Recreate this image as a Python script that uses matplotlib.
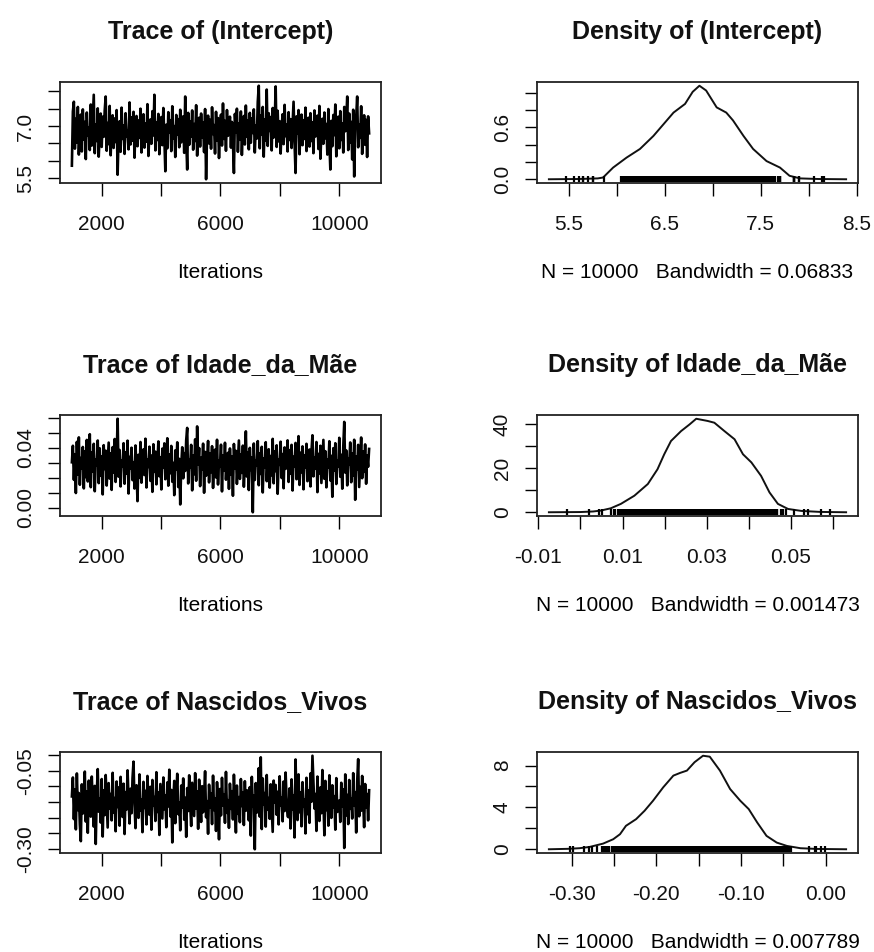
import numpy as np
import matplotlib.pyplot as plt

# --- data (coda trace / density plots) ---
first_iter, last_iter = 1001, 11000
n_draws = 10000

param_names = ["(Intercept)", "Idade_da_Mãe", "Nascidos_Vivos"]
bandwidths = ["0.06833", "0.001473", "0.007789"]

# thinned hand-read traces (every ~33rd draw)
trace_intercept = [
    5.86, 7.42, 7.70, 6.35, 7.21, 6.52, 7.55, 6.18, 6.88, 7.33, 6.27, 7.48, 6.61, 7.12, 6.05, 7.39, 6.74, 6.96, 6.31, 7.62,
    6.44, 7.18, 7.90, 6.22, 7.05, 6.57, 7.51, 6.12, 6.83, 7.36, 6.40, 7.27, 6.69, 7.44, 7.85, 6.29, 7.09, 6.48, 7.58, 6.16,
    6.92, 7.31, 6.37, 7.22, 6.54, 7.46, 5.60, 6.79, 7.14, 6.26, 7.53, 6.63, 7.02, 6.20, 7.37, 6.71, 6.87, 6.33, 7.68, 6.47,
    7.25, 6.58, 7.41, 6.09, 6.98, 7.29, 6.42, 7.16, 6.66, 7.50, 6.24, 6.91, 7.34, 6.38, 7.07, 6.55, 7.63, 6.14, 6.85, 7.19,
    6.49, 7.43, 6.73, 7.90, 6.30, 7.11, 6.60, 7.35, 6.19, 6.94, 7.26, 6.45, 7.52, 6.68, 5.70, 7.04, 6.36, 7.40, 6.81, 7.17,
    6.28, 7.57, 6.64, 7.00, 6.11, 7.32, 6.76, 7.20, 6.39, 7.47, 6.53, 6.89, 7.28, 6.23, 7.85, 6.62, 5.75, 7.38, 6.46, 7.13,
    6.70, 7.45, 6.32, 7.06, 6.57, 7.60, 6.15, 6.93, 7.24, 6.41, 7.36, 6.67, 7.10, 6.25, 7.49, 5.47, 6.84, 7.30, 6.50, 7.18,
    6.35, 7.54, 6.77, 7.03, 6.21, 7.41, 6.59, 7.23, 6.08, 6.97, 7.33, 6.44, 7.65, 6.63, 7.15, 6.29, 7.46, 6.72, 6.90, 7.27,
    6.38, 7.12, 6.55, 5.65, 7.35, 6.82, 7.50, 6.26, 7.08, 6.61, 7.42, 6.17, 6.95, 7.29, 6.47, 7.59, 6.69, 7.16, 6.33, 7.38,
    6.52, 7.22, 6.80, 7.48, 6.24, 7.01, 6.64, 7.70, 8.16, 6.36, 7.31, 6.75, 7.55, 6.12, 7.19, 6.58, 8.05, 6.43, 7.37, 6.86,
    7.26, 6.30, 7.52, 6.67, 7.09, 8.14, 6.40, 7.44, 6.56, 7.14, 6.21, 6.99, 7.34, 6.48, 7.61, 6.71, 7.05, 6.27, 7.40, 6.60,
    7.20, 6.37, 7.02, 7.70, 6.51, 5.65, 7.28, 6.78, 7.46, 6.19, 6.92, 7.33, 6.45, 7.17, 6.63, 7.53, 6.28, 6.96, 7.24, 6.41,
    7.37, 6.57, 7.11, 6.22, 7.45, 6.70, 6.88, 7.30, 6.34, 7.58, 6.06, 6.83, 7.21, 6.49, 7.39, 6.65, 7.06, 6.18, 7.49, 6.55,
    5.75, 7.15, 6.42, 7.32, 6.74, 7.62, 6.13, 6.98, 7.27, 6.36, 7.43, 6.60, 7.08, 6.24, 7.55, 6.85, 7.19, 7.85, 6.31, 7.36,
    6.53, 7.12, 6.04, 7.47, 5.55, 6.93, 7.25, 7.85, 6.39, 7.04, 6.66, 7.57, 6.20, 6.90, 7.31, 6.46, 7.18, 6.11, 7.28, 6.79,
]
trace_idade = [
    0.0302, 0.0412, 0.0185, 0.0356, 0.0097, 0.0438, 0.0221, 0.0468, 0.0152, 0.0331, 0.0263, 0.0404, 0.0128, 0.0376, 0.0203, 0.0451, 0.0174, 0.0289, 0.0489, 0.0136,
    0.0367, 0.0241, 0.0425, 0.0109, 0.0318, 0.0282, 0.0447, 0.0163, 0.0395, 0.0214, 0.0342, 0.0088, 0.0416, 0.0257, 0.0379, 0.0147, 0.0296, 0.0433, 0.0193, 0.0361,
    0.0118, 0.0403, 0.0234, 0.0457, 0.0171, 0.0327, 0.0592, 0.0206, 0.0384, 0.0141, 0.0312, 0.0275, 0.0429, 0.0159, 0.0368, 0.0226, 0.0446, 0.0094, 0.0338, 0.0261,
    0.0399, 0.0183, 0.0303, 0.0127, 0.0414, 0.0249, 0.0043, 0.0352, 0.0198, 0.0437, 0.0166, 0.0294, 0.0388, 0.0217, 0.0459, 0.0134, 0.0321, 0.0271, 0.0406, 0.0178,
    0.0347, 0.0105, 0.0422, 0.0238, 0.0373, 0.0155, 0.0284, 0.0441, 0.0209, 0.0336, 0.0121, 0.0393, 0.0265, 0.0428, 0.0189, 0.0309, 0.0462, 0.0146, 0.0355, 0.0229,
    0.0411, 0.0172, 0.0298, 0.0083, 0.0381, 0.0253, 0.0435, 0.0137, 0.0325, 0.0021, 0.0278, 0.0402, 0.0195, 0.0363, 0.0244, 0.0449, 0.0531, 0.0161, 0.0317, 0.0268,
    0.0418, 0.0115, 0.0346, 0.0222, 0.0455, 0.0179, 0.0541, 0.0287, 0.0397, 0.0143, 0.0332, 0.0256, 0.0426, 0.0099, 0.0371, 0.0212, 0.0308, 0.0444, 0.0168, 0.0359,
    0.0236, 0.0409, 0.0131, 0.0293, 0.0386, 0.0201, 0.0452, 0.0154, 0.0315, 0.0273, 0.0419, 0.0108, 0.0348, 0.0246, 0.0432, 0.0186, 0.0301, 0.0365, 0.0125, 0.0394,
    0.0219, 0.0341, 0.0079, 0.0424, 0.0262, 0.0378, 0.0158, 0.0306, 0.0447, 0.0191, 0.0354, 0.0231, 0.0413, 0.0139, 0.0289, 0.0508, 0.0207, 0.0369, 0.0117, 0.0398,
    0.0251, 0.0335, -0.0031, 0.0427, 0.0184, 0.0311, 0.0279, 0.0443, 0.0149, 0.0362, 0.0224, 0.0405, 0.0101, 0.0328, 0.0266, 0.0436, 0.0176, 0.0297, 0.0389, 0.0133,
    0.0344, 0.0215, 0.0458, 0.0162, 0.0374, 0.0243, 0.0415, 0.0092, 0.0322, 0.0285, 0.0439, 0.0197, 0.0357, 0.0129, 0.0401, 0.0258, 0.0313, 0.0448, 0.0171, 0.0383,
    0.0227, 0.0418, 0.0114, 0.0339, 0.0276, 0.0431, 0.0189, 0.0304, 0.0476, 0.0151, 0.0366, 0.0235, 0.0408, 0.0122, 0.0349, 0.0269, 0.0425, 0.0176, 0.0292, 0.0387,
    0.0141, 0.0371, 0.0482, 0.0208, 0.0333, 0.0259, 0.0437, 0.0103, 0.0358, 0.0228, 0.0412, 0.0164, 0.0305, 0.0451, 0.0192, 0.0376, 0.0135, 0.0319, 0.0267, 0.0442,
    0.0181, 0.0345, 0.0072, 0.0396, 0.0247, 0.0429, 0.0157, 0.0314, 0.0274, 0.0465, 0.0205, 0.0352, 0.0126, 0.0404, 0.0571, 0.0233, 0.0381, 0.0148, 0.0327, 0.0286,
    0.0434, 0.0169, 0.0362, 0.0213, 0.0452, 0.0052, 0.0339, 0.0254, 0.0418, 0.0137, 0.0301, 0.0467, 0.0196, 0.0373, 0.0238, 0.0421, 0.0159, 0.0347, 0.0272, 0.0391,
]
trace_nascidos = [
    -0.132, -0.071, -0.205, -0.109, -0.238, -0.058, -0.176, -0.121, -0.221, -0.276, -0.093, -0.187, -0.145, -0.052, -0.213, -0.116, -0.249, -0.081, -0.163, -0.197,
    -0.068, -0.154, -0.229, -0.098, -0.285, -0.127, -0.044, -0.181, -0.139, -0.216, -0.076, -0.261, -0.112, -0.192, -0.063, -0.148, -0.232, -0.089, -0.171, -0.124,
    -0.209, -0.056, -0.184, -0.137, -0.244, -0.084, -0.166, -0.103, -0.226, -0.069, -0.151, -0.198, -0.091, -0.253, -0.118, -0.174, -0.048, -0.141, -0.219, -0.107,
    -0.186, -0.073, -0.020, -0.158, -0.234, -0.096, -0.129, -0.201, -0.061, -0.178, -0.143, -0.247, -0.085, -0.169, -0.114, -0.222, -0.066, -0.155, -0.191, -0.101,
    -0.239, -0.079, -0.162, -0.134, -0.211, -0.054, -0.182, -0.119, -0.256, -0.092, -0.149, -0.203, -0.071, -0.173, -0.128, -0.231, -0.087, -0.164, -0.046, -0.196,
    -0.111, -0.280, -0.146, -0.082, -0.218, -0.125, -0.059, -0.189, -0.152, -0.241, -0.097, -0.168, -0.074, -0.207, -0.136, -0.262, -0.105, -0.179, -0.064, -0.157,
    -0.227, -0.088, -0.142, -0.195, -0.057, -0.171, -0.116, -0.236, -0.078, -0.159, -0.214, -0.099, -0.183, -0.131, -0.051, -0.199, -0.147, -0.252, -0.094, -0.167,
    -0.122, -0.221, -0.065, -0.176, -0.138, -0.243, -0.086, -0.154, -0.270, -0.108, -0.193, -0.072, -0.161, -0.126, -0.217, -0.053, -0.185, -0.144, -0.233, -0.091,
    -0.172, -0.115, -0.206, -0.062, -0.153, -0.248, -0.097, -0.188, -0.134, -0.215, -0.076, -0.163, -0.119, -0.224, -0.083, -0.178, -0.112, -0.141, -0.209, -0.102,
    -0.258, -0.069, -0.165, -0.129, -0.302, -0.089, -0.184, -0.148, -0.041, -0.197, -0.006, -0.237, -0.074, -0.158, -0.121, -0.229, -0.063, -0.175, -0.137, -0.204,
    -0.093, -0.168, -0.246, -0.081, -0.152, -0.095, -0.191, -0.117, -0.222, -0.067, -0.161, -0.135, -0.212, -0.084, -0.179, -0.055, -0.144, -0.196, -0.199, -0.106,
    -0.235, -0.077, -0.173, -0.128, -0.264, -0.013, -0.156, -0.208, -0.061, -0.183, -0.119, -0.228, -0.086, -0.165, -0.142, -0.251, -0.072, -0.189, -0.113, -0.217,
    -0.058, -0.149, -0.001, -0.091, -0.171, -0.124, -0.243, -0.068, -0.159, -0.211, -0.103, -0.186, -0.047, -0.138, -0.257, -0.082, -0.176, -0.115, -0.226, -0.064,
    -0.153, -0.201, -0.096, -0.168, -0.131, -0.239, -0.073, -0.182, -0.155, -0.145, -0.214, -0.088, -0.164, -0.109, -0.298, -0.061, -0.193, -0.127, -0.221, -0.079,
    -0.172, -0.139, -0.203, -0.057, -0.162, -0.118, -0.248, -0.085, -0.012, -0.196, -0.101, -0.178, -0.066, -0.143, -0.231, -0.092, -0.167, -0.124, -0.209, -0.112,
]

dens_x_intercept = [5.29, 5.60, 5.80, 5.855, 5.96, 6.10, 6.24, 6.38, 6.52, 6.59,
                    6.71, 6.79, 6.86, 6.93, 7.04, 7.14, 7.21, 7.32, 7.42, 7.56,
                    7.70, 7.80, 7.91, 8.10, 8.39]
dens_y_intercept = [0.0, 0.003, 0.01, 0.02, 0.135, 0.25, 0.35, 0.50, 0.68, 0.77,
                    0.87, 1.01, 1.08, 1.025, 0.83, 0.77, 0.68, 0.50, 0.35, 0.21,
                    0.135, 0.04, 0.01, 0.003, 0.0]

dens_x_idade = [-0.0075, 0.0, 0.0030, 0.0048, 0.0072, 0.0096, 0.0128, 0.0160,
                0.0183, 0.0199, 0.0215, 0.0239, 0.0259, 0.0275, 0.0302, 0.0318,
                0.0342, 0.0366, 0.0386, 0.0406, 0.0429, 0.0449, 0.0469, 0.0493,
                0.0525, 0.0570, 0.0631]
dens_y_idade = [0.0, 0.1, 0.35, 0.75, 1.8, 3.8, 7.5, 12.8, 19.5, 26.3, 32.3,
                36.8, 39.8, 42.4, 41.4, 40.6, 36.8, 33.1, 26.3, 22.6, 16.5, 9.0,
                3.8, 1.5, 0.6, 0.15, 0.0]

dens_x_nascidos = [-0.327, -0.305, -0.291, -0.279, -0.263, -0.251, -0.243, -0.236,
                   -0.224, -0.214, -0.204, -0.192, -0.180, -0.172, -0.164, -0.155,
                   -0.145, -0.137, -0.125, -0.113, -0.101, -0.091, -0.081, -0.070,
                   -0.058, -0.046, -0.030, -0.010, 0.024]
dens_y_nascidos = [0.0, 0.04, 0.1, 0.22, 0.54, 0.96, 1.44, 2.24, 2.88, 3.68, 4.64,
                   5.92, 7.04, 7.30, 7.52, 8.32, 8.94, 8.85, 7.52, 5.76, 4.64, 3.84,
                   2.56, 1.28, 0.64, 0.32, 0.1, 0.03, 0.0]

traces = [trace_intercept, trace_idade, trace_nascidos]
dens_x = [dens_x_intercept, dens_x_idade, dens_x_nascidos]
dens_y = [dens_y_intercept, dens_y_idade, dens_y_nascidos]

trace_xticks = [2000, 4000, 6000, 8000, 10000]
trace_xlabels = ["2000", "", "6000", "", "10000"]
trace_yticks = [
    [5.5, 6.0, 6.5, 7.0, 7.5, 8.0],
    [0.00, 0.01, 0.02, 0.03, 0.04, 0.05, 0.06],
    [-0.30, -0.25, -0.20, -0.15, -0.10, -0.05, 0.00],
]
trace_ylabels = [
    ["5.5", "", "", "7.0", "", ""],
    ["0.00", "", "", "", "0.04", "", ""],
    ["-0.30", "", "", "", "", "-0.05", ""],
]
dens_xticks = [
    [5.5, 6.0, 6.5, 7.0, 7.5, 8.0, 8.5],
    [-0.01, 0.00, 0.01, 0.02, 0.03, 0.04, 0.05, 0.06],
    [-0.30, -0.25, -0.20, -0.15, -0.10, -0.05, 0.00],
]
dens_xlabels = [
    ["5.5", "", "6.5", "", "7.5", "", "8.5"],
    ["-0.01", "", "0.01", "", "0.03", "", "0.05", ""],
    ["-0.30", "", "-0.20", "", "-0.10", "", "0.00"],
]
dens_yticks = [
    [0.0, 0.2, 0.4, 0.6, 0.8, 1.0],
    [0, 10, 20, 30, 40],
    [0, 2, 4, 6, 8],
]
dens_ylabels = [
    ["0.0", "", "", "0.6", "", ""],
    ["0", "", "20", "", "40"],
    ["0", "", "4", "", "8"],
]


def set_visualization_style():
    plt.rcParams.update(
        {
            "font.family": ["Liberation Sans", "DejaVu Sans"],
            "font.size": 15,
            "axes.linewidth": 1.3,
            "axes.edgecolor": "#222222",
            "xtick.direction": "out",
            "ytick.direction": "out",
            "xtick.major.size": 9,
            "ytick.major.size": 9,
            "xtick.major.width": 1.0,
            "ytick.major.width": 1.0,
            "xtick.major.pad": 14,
            "ytick.major.pad": 9,
            "xtick.labelsize": 15,
            "ytick.labelsize": 15,
            "text.color": "#111111",
            "xtick.labelcolor": "#111111",
            "ytick.labelcolor": "#111111",
        }
    )


def style_axis(ax, xticks, xlabels, yticks, ylabels, title, xlabel):
    ax.margins(x=0.04, y=0.04)
    ax.set_xticks(xticks, xlabels)
    ax.set_yticks(yticks, ylabels, rotation=90, va="center")
    ax.set_title(title, fontsize=18, fontweight="bold", pad=31)
    ax.set_xlabel(xlabel, labelpad=21)


set_visualization_style()
fig = plt.figure(figsize=(8.74, 9.52), dpi=100)
W, H = 874, 952

# pixel boxes of the plot regions (left, top); size 321 x 101
lefts = [60, 537]
tops = [82, 415, 752]
box_w, box_h = 321, 101

for row, name in enumerate(param_names):
    top = tops[row]
    ax_t = fig.add_axes([lefts[0] / W, 1 - (top + box_h) / H, box_w / W, box_h / H])
    ax_d = fig.add_axes([lefts[1] / W, 1 - (top + box_h) / H, box_w / W, box_h / H])

    values = np.array(traces[row])
    iters = np.linspace(first_iter, last_iter, len(values))
    ax_t.plot(iters, values, color="black", linewidth=1.9)
    style_axis(ax_t, trace_xticks, trace_xlabels, trace_yticks[row],
               trace_ylabels[row], f"Trace of {name}", "Iterations")

    ax_d.plot(dens_x[row], dens_y[row], color="#111111", linewidth=1.4)
    # rug of the draws along the baseline
    ax_d.plot(values, np.zeros(len(values)), linestyle="none", marker="|",
              markersize=4, markeredgewidth=1.6, color="black")
    style_axis(ax_d, dens_xticks[row], dens_xlabels[row], dens_yticks[row],
               dens_ylabels[row], f"Density of {name}",
               f"N = {n_draws}   Bandwidth = {bandwidths[row]}")

plt.savefig("out.png", dpi=100)
